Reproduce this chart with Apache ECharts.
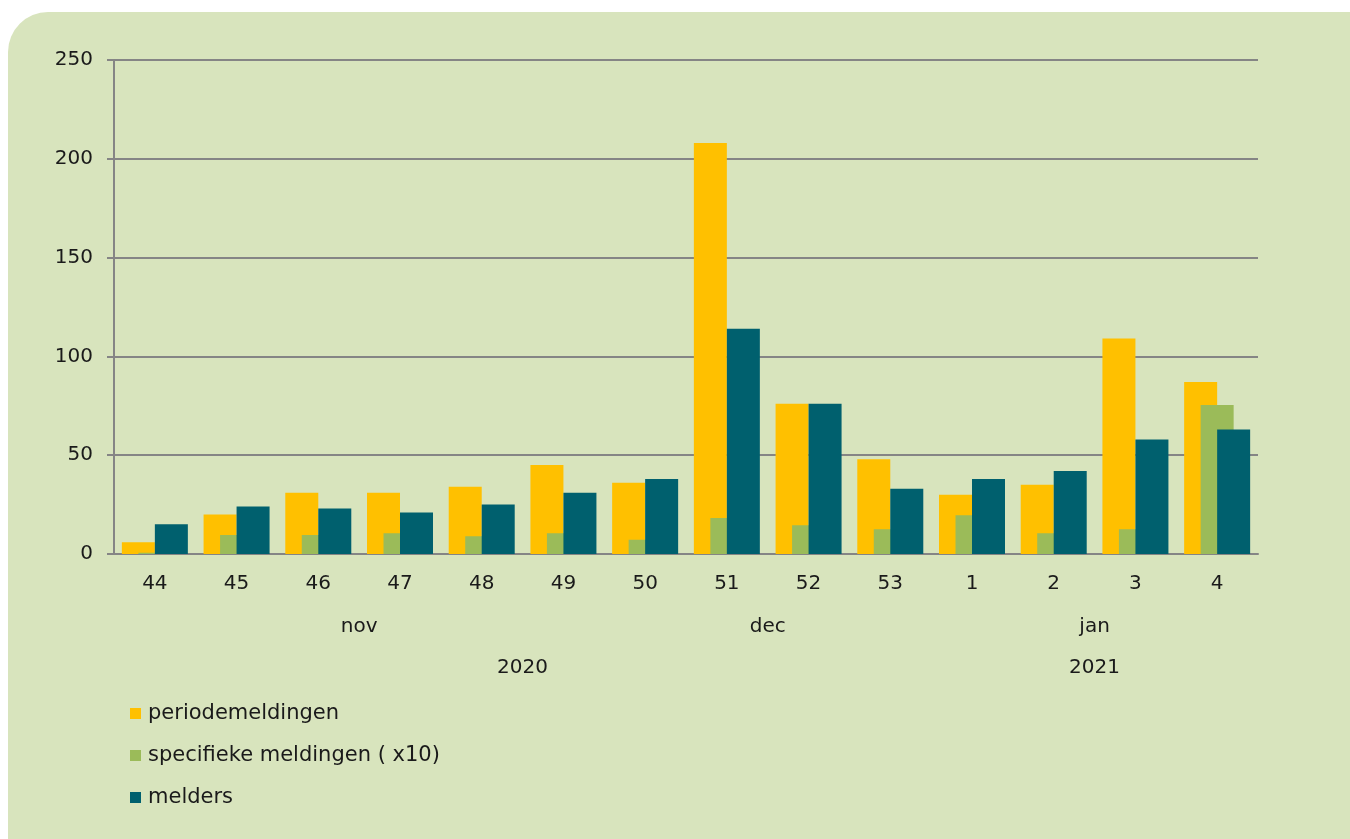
<!DOCTYPE html>
<html>
<head>
<meta charset="utf-8">
<script src="https://cdn.jsdelivr.net/npm/echarts@6/dist/echarts.min.js"></script>
<style>
html,body{margin:0;padding:0;background:#fff;}
#c{width:1350px;height:839px;}
</style>
</head>
<body>
<div id="c"></div>
<script>
var weeks = ['44','45','46','47','48','49','50','51','52','53','1','2','3','4'];
var monthOfWeek = ['nov','nov','nov','nov','nov','nov','dec','dec','dec','dec','jan','jan','jan','jan'];
var yearOfWeek = ['2020','2020','2020','2020','2020','2020','2020','2020','2020','2020','2021','2021','2021','2021'];
var periodemeldingen = [6,20,31,31,34,45,36,208,76,48,30,35,109,87];
var specifiekeMeldingen = [0.6,9.6,9.6,10.5,9,10.5,7.2,18.2,14.5,12.5,19.6,10.5,12.5,75.4];
var melders = [15,24,23,21,25,31,38,114,76,33,38,42,58,63];
var yTicks = {min:0, max:250, interval:50};

var FONT = 'DejaVu Sans';
var TXT = '#1a1a1a';
var GRIDC = '#858585';

var chart = echarts.init(document.getElementById('c'));
var option = {
  backgroundColor: '#ffffff',
  animation: false,
  textStyle: {fontFamily: FONT},
  graphic: [{
    type: 'rect', z: -10, silent: true,
    shape: {x: 8, y: 12, width: 1420, height: 900, r: 40},
    style: {fill: '#d8e4bd'}
  }],
  grid: {left: 114, right: 92, top: 60, bottom: 285, containLabel: false},
  legend: {
    orient: 'vertical', left: 125, top: 698,
    itemWidth: 11, itemHeight: 11, itemGap: 21,
    icon: 'rect',
    itemStyle: {borderWidth: 0},
    textStyle: {fontFamily: FONT, fontSize: 21, color: TXT, lineHeight: 21, padding: [0, 0, 0, 2]},
    data: ['periodemeldingen','specifieke meldingen ( x10)','melders']
  },
  xAxis: [{
    type: 'category', data: weeks,
    axisLine: {lineStyle: {color: GRIDC, width: 2}},
    axisTick: {show: false},
    axisLabel: {fontFamily: FONT, fontSize: 20, color: TXT, margin: 20}
  }, {
    type: 'category', data: weeks, show: false
  }],
  yAxis: {
    type: 'value', min: yTicks.min, max: yTicks.max, interval: yTicks.interval,
    axisLine: {show: true, lineStyle: {color: GRIDC, width: 2}},
    axisTick: {show: true, length: 7, lineStyle: {color: GRIDC, width: 2}},
    splitLine: {lineStyle: {color: GRIDC, width: 2}},
    axisLabel: {fontFamily: FONT, fontSize: 20, color: TXT, margin: 21}
  },
  series: [{
    name: 'periodemeldingen', type: 'bar', xAxisIndex: 0,
    data: periodemeldingen, barWidth: 33, barGap: '0%',
    itemStyle: {color: '#ffc000'}
  }, {
    name: 'specifieke meldingen ( x10)', type: 'bar', xAxisIndex: 1,
    data: specifiekeMeldingen, barWidth: 33,
    itemStyle: {color: '#9bbb59'}
  }, {
    name: 'melders', type: 'bar', xAxisIndex: 0,
    data: melders, barWidth: 33, barGap: '0%',
    itemStyle: {color: '#00606e'}
  }]
};
chart.setOption(option);

function groups(labels) {
  var out = [];
  for (var i = 0; i < labels.length; i++) {
    if (out.length && out[out.length-1].name === labels[i]) out[out.length-1].to = i;
    else out.push({name: labels[i], from: i, to: i});
  }
  return out;
}
function groupTexts(labels, y) {
  return groups(labels).map(function (g) {
    var a = chart.convertToPixel({xAxisIndex: 0}, weeks[g.from]);
    var b = chart.convertToPixel({xAxisIndex: 0}, weeks[g.to]);
    return {
      type: 'text', silent: true, x: (a + b) / 2, y: y,
      style: {text: g.name, fontFamily: FONT, fontSize: 20, fill: TXT, align: 'center', verticalAlign: 'middle'}
    };
  });
}
var extra = [option.graphic[0]].concat(groupTexts(monthOfWeek, 627), groupTexts(yearOfWeek, 668));
chart.setOption({graphic: extra}, {replaceMerge: ['graphic']});
</script>
</body>
</html>
